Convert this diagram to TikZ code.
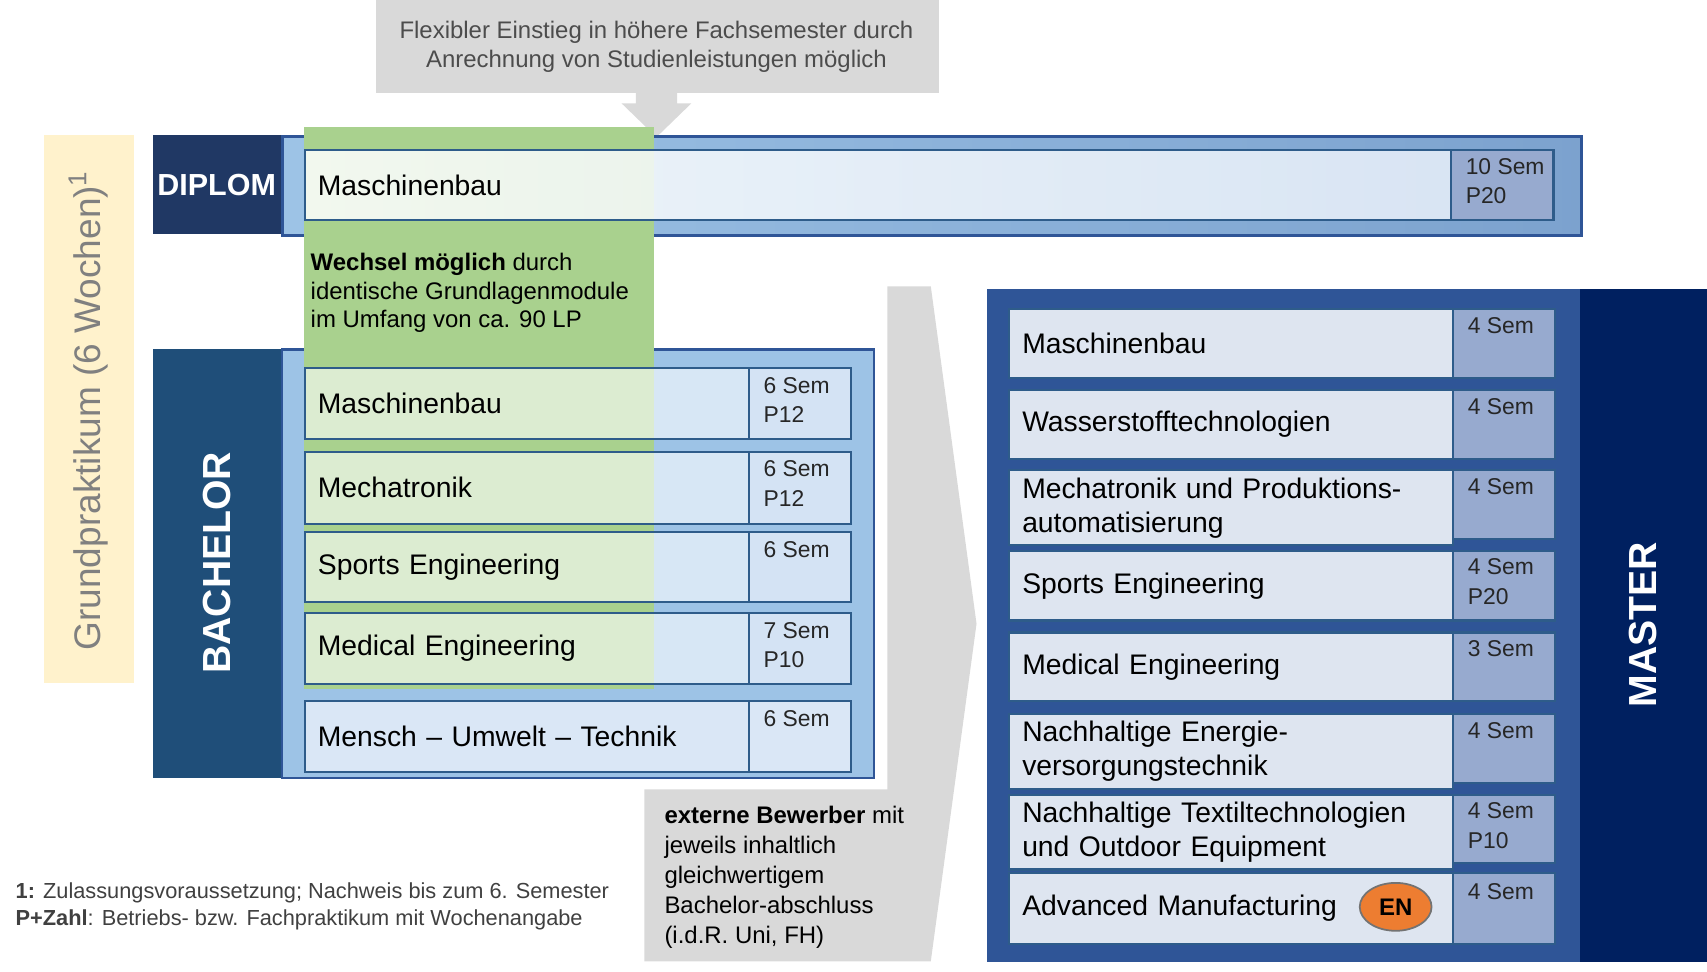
\documentclass[tikz,border=0pt]{standalone}
\usepackage{fontspec}
\setmainfont{Liberation Sans}
\usetikzlibrary{shapes.geometric}
\definecolor{gp}{HTML}{FFF2CC}
\definecolor{gr}{HTML}{D9D9D9}
\definecolor{dipl}{HTML}{203864}
\definecolor{bach}{HTML}{1F4E79}
\definecolor{mast}{HTML}{002060}
\definecolor{mpanel}{HTML}{2F5597}
\definecolor{lblue}{HTML}{9DC3E6}
\definecolor{bord}{HTML}{2E5C8A}
\definecolor{rowb}{HTML}{DAE7F6}
\definecolor{mrow}{HTML}{DEE5F0}
\definecolor{msem}{HTML}{97AACF}
\definecolor{green}{HTML}{A9D18E}
\definecolor{orng}{HTML}{ED7D31}
\begin{document}
\begin{tikzpicture}[x=0.5pt,y=-0.5pt,
 fnt/.style={font=\fontsize{#1pt}{\dimexpr#1pt*12/10\relax}\selectfont},
 bnm/.style={draw=bord,line width=1pt,fill=white,fill opacity=.6,text opacity=1,anchor=north west,minimum height=#1,text width=192pt,inner xsep=6pt,align=left,fnt=13},
 bsm/.style={draw=bord,line width=1pt,fill=rowb,fill opacity=.9,anchor=north west,minimum height=#1,minimum width=47pt,inner sep=0pt},
 mnm/.style={draw=bord,line width=1pt,fill=mrow,anchor=north west,minimum height=#1,text width=192pt,inner xsep=6pt,align=left,fnt=13},
 msm/.style={draw=bord,line width=1pt,fill=msem,anchor=north west,minimum height=#1,minimum width=46.5pt,inner sep=0pt},
 semt/.style={anchor=north west,align=left,inner sep=0pt,font=\fontsize{10.5pt}{13.5pt}\selectfont,text=black!85},
 lab/.style={text=white,font=\bfseries\fontsize{18pt}{20pt}\selectfont},
]
\useasboundingbox (0,0) rectangle (1568,892);
% Grundpraktikum
\node[fill=gp,anchor=north west,minimum width=41.5pt,minimum height=251.5pt,inner sep=0pt] (gp) at (40,124) {};
\node[rotate=90,text=black!50,fnt=17] (gpt) at (81,377) {Grundpraktikum (6 Wochen)\textsuperscript{1}};
% callout
\node[fill=gr,anchor=north west,minimum width=258.5pt,minimum height=42.5pt,inner sep=0pt] (cb) at (345,0) {};
\node[align=center,text=black!70,fnt=11] (ct) at (603,43) {Flexibler Einstieg in höhere Fachsemester durch\\Anrechnung von Studienleistungen möglich};
\fill[gr] (584,85) -- (622,85) -- (622,95) -- (635,95) -- (603,126) -- (571,95) -- (584,95) -- cycle;
% big gray arrow
\fill[gr] (815,263) -- (855,263) -- (897,573) -- (855,883) -- (592,883) -- (592,725) -- (815,725) -- cycle;
% Diplom band
\node[draw=mpanel,line width=1.5pt,left color=lblue,right color=lblue!70!mpanel,anchor=north west,minimum width=596.5pt,minimum height=45.5pt,inner sep=0pt] (dband) at (258,124) {};
\node[fill=dipl,anchor=north west,minimum width=59pt,minimum height=45.5pt,inner sep=0pt] (dlab) at (140,124) {};
\node[text=white,font=\bfseries\fontsize{14pt}{16pt}\selectfont] (dlt) at (199,170) {DIPLOM};
% Bachelor panel
\node[draw=mpanel,line width=1pt,fill=lblue,anchor=north west,minimum width=272pt,minimum height=197pt,inner sep=0pt] (bpan) at (258,320) {};
\node[fill=bach,anchor=north west,minimum width=59pt,minimum height=197pt,inner sep=0pt] (blab) at (140,320) {};
\node[lab,rotate=90] (blt) at (199,517) {BACHELOR};
% green
\fill[green] (279,117) rectangle (601,633);
\node[anchor=north west,align=left,inner sep=0pt,fnt=11] (wt) at (285,232) {\textbf{Wechsel möglich} durch\\identische Grundlagenmodule\\im Umfang von ca. 90 LP};
% Diplom row
\node[draw=bord,line width=1pt,left color=white,right color=rowb!60,fill opacity=.85,text opacity=1,anchor=north west,minimum height=32pt,text width=514.5pt,inner xsep=6pt,align=left,fnt=13] (dr) at (279,137) {Maschinenbau};
\node[draw=bord,line width=1pt,fill=msem,anchor=north west,minimum height=32pt,minimum width=47pt,inner sep=0pt] (ds) at (1332,137) {};
\node[semt] (dst) at (1346,145) {10 Sem\\P20};
% Bachelor rows
\node[bnm=32.5pt] (b1) at (279,337) {Maschinenbau};
\node[bsm=32.5pt] (b1s) at (687,337) {};
\node[semt] (b1t) at (701,346) {6 Sem\\P12};
\node[bnm=33pt] (b2) at (279,414) {Mechatronik};
\node[bsm=33pt] (b2s) at (687,414) {};
\node[semt] (b2t) at (701,423) {6 Sem\\P12};
\node[bnm=32pt] (b3) at (279,488) {Sports Engineering};
\node[bsm=32pt] (b3s) at (687,488) {};
\node[semt] (b3t) at (701,497) {6 Sem};
\node[bnm=32.5pt] (b4) at (279,562) {Medical Engineering};
\node[bsm=32.5pt] (b4s) at (687,562) {};
\node[semt] (b4t) at (701,571) {7 Sem\\P10};
\node[bnm=32.5pt,fill=rowb,fill opacity=1] (b5) at (279,643) {Mensch -- Umwelt -- Technik};
\node[bsm=32.5pt,fill opacity=1] (b5s) at (687,643) {};
\node[semt] (b5t) at (701,652) {6 Sem};
% externe
\node[anchor=north west,align=left,inner sep=0pt,font=\fontsize{11pt}{13.8pt}\selectfont] (ext) at (610,740) {\textbf{externe Bewerber} mit\\jeweils inhaltlich\\gleichwertigem\\Bachelor-abschluss\\(i.d.R. Uni, FH)};
% Master
\node[fill=mpanel,anchor=north west,minimum width=272.5pt,minimum height=309pt,inner sep=0pt] (mpan) at (906,265) {};
\node[fill=mast,anchor=north west,minimum width=58.5pt,minimum height=309pt,inner sep=0pt] (mlab) at (1451,265) {};
\node[lab,rotate=90] (mlt) at (1509,574) {MASTER};
\node[mnm=31.5pt] (m1) at (926,283) {Maschinenbau};
\node[msm=31.5pt] (m1s) at (1334,283) {};
\node[semt] (m1t) at (1348,291) {4 Sem};
\node[mnm=32pt] (m2) at (926,357) {Wasserstofftechnologien};
\node[msm=32pt] (m2s) at (1334,357) {};
\node[semt] (m2t) at (1348,366) {4 Sem};
\node[mnm=31.5pt] (m3) at (926,431) {Mechatronik und Produktions-\\automatisierung};
\node[msm=31.5pt] (m3s) at (1334,431) {};
\node[semt] (m3t) at (1348,439) {4 Sem};
\node[mnm=32pt] (m4) at (926,505) {Sports Engineering};
\node[msm=32pt] (m4s) at (1334,505) {};
\node[semt] (m4t) at (1348,513) {4 Sem\\P20};
\node[mnm=31.5pt] (m5) at (926,580) {Medical Engineering};
\node[msm=31.5pt] (m5s) at (1334,580) {};
\node[semt] (m5t) at (1348,588) {3 Sem};
\node[mnm=31.5pt] (m6) at (926,655) {Nachhaltige Energie-\\versorgungstechnik};
\node[msm=31.5pt] (m6s) at (1334,655) {};
\node[semt] (m6t) at (1348,663) {4 Sem};
\node[mnm=31.5pt] (m7) at (926,729) {Nachhaltige Textiltechnologien\\und Outdoor Equipment};
\node[msm=31.5pt] (m7s) at (1334,729) {};
\node[semt] (m7t) at (1348,737) {4 Sem\\P10};
\node[mnm=32.5pt] (m8) at (926,801) {Advanced Manufacturing};
\node[msm=32.5pt] (m8s) at (1334,801) {};
\node[semt] (m8t) at (1348,811) {4 Sem};
\node[ellipse,draw=black!55,line width=0.8pt,fill=orng,minimum width=33pt,minimum height=22pt,inner sep=0pt,font=\bfseries\fontsize{11pt}{12pt}\selectfont] (en) at (1282,833) {EN};
% footnote
\node[anchor=north west,align=left,inner sep=0pt,font=\fontsize{10pt}{12.5pt}\selectfont,text=black!75] (fn) at (14,810) {\textbf{1:} Zulassungsvoraussetzung; Nachweis bis zum 6. Semester\\\textbf{P+Zahl}: Betriebs- bzw. Fachpraktikum mit Wochenangabe};
\end{tikzpicture}
\end{document}
